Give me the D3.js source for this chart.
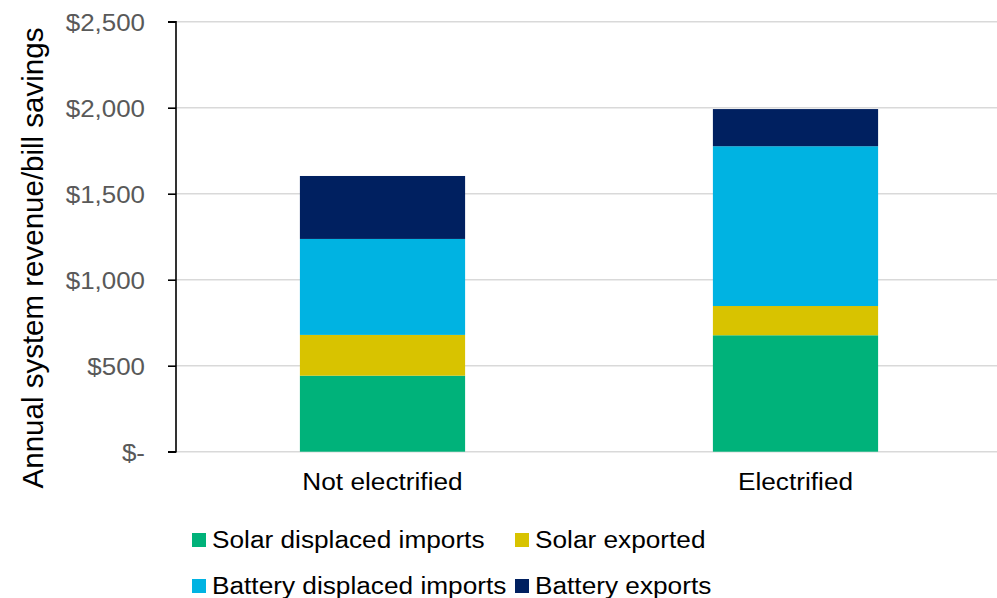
<!DOCTYPE html>
<html>
<head>
<meta charset="utf-8">
<script src="https://cdn.jsdelivr.net/npm/d3@7"></script>
<style>
  html, body { margin: 0; padding: 0; background: #fff; }
  svg { display: block; font-family: Arial, "Liberation Sans", sans-serif; }
</style>
</head>
<body>
<svg id="chart" width="997" height="598"></svg>
<script>
// ---- Data ----
const categories = ["Not electrified", "Electrified"];
const seriesNames = ["Solar displaced imports", "Solar exported", "Battery displaced imports", "Battery exports"];
const solarDisplaced = [442, 677];
const solarExported = [237, 170];
const batteryDisplaced = [558, 929];
const batteryExports = [366, 216];
const tickValues = [0, 500, 1000, 1500, 2000, 2500];
const tickLabels = ["$-", "$500", "$1,000", "$1,500", "$2,000", "$2,500"];
const colors = ["#00B27A", "#D8C300", "#00B3E2", "#002060"];
const yTitle = "Annual system revenue/bill savings";

// ---- Build table ----
const seriesValues = [solarDisplaced, solarExported, batteryDisplaced, batteryExports];
const table = categories.map((c, i) => {
  const row = { category: c };
  seriesNames.forEach((s, j) => row[s] = seriesValues[j][i]);
  return row;
});
const stacked = d3.stack().keys(seriesNames)(table);

const svg = d3.select("#chart");
const x0 = 176, x1 = 1002, yTop = 21.7, yBottom = 451.7;

const x = d3.scaleBand().domain(categories).range([x0, x1]).paddingInner(0.6).paddingOuter(0.3);
const y = d3.scaleLinear().domain([0, 2500]).range([yBottom, yTop]);
const color = d3.scaleOrdinal().domain(seriesNames).range(colors);

function stretch(sel, factor) {
  sel.each(function() {
    const len = this.getComputedTextLength();
    d3.select(this).attr("textLength", len * factor).attr("lengthAdjust", "spacingAndGlyphs");
  });
}

// gridlines
svg.append("g")
  .selectAll("line").data(tickValues).join("line")
  .attr("x1", x0).attr("x2", 997)
  .attr("y1", d => y(d)).attr("y2", d => y(d))
  .attr("stroke", "#d9d9d9").attr("stroke-width", 1.6);

// bars
svg.append("g").selectAll("g").data(stacked).join("g")
  .attr("fill", d => color(d.key))
  .selectAll("rect").data(d => d).join("rect")
  .attr("x", d => x(d.data.category))
  .attr("width", x.bandwidth())
  .attr("y", d => y(d[1]))
  .attr("height", d => y(d[0]) - y(d[1]));

// y axis
const yAxis = d3.axisLeft(y).tickValues(tickValues).tickSize(8).tickPadding(22)
  .tickFormat((d, i) => tickLabels[i]);
const gy = svg.append("g").attr("transform", `translate(${x0},0)`).call(yAxis);
gy.select(".domain").attr("stroke", "#000").attr("stroke-width", 1.6).attr("d", `M-8,${yTop}H0V${yBottom}H-8`);
gy.selectAll(".tick line").attr("stroke", "#000").attr("stroke-width", 1.6);
gy.selectAll(".tick text")
  .attr("fill", "#595959").attr("font-size", 24).attr("font-family", "Arial, 'Liberation Sans', sans-serif")
  .attr("x", -31).attr("dy", "0.36em");
stretch(gy.selectAll(".tick text"), 1.08);

// x labels
const xl = svg.append("g").selectAll("text").data(categories).join("text")
  .attr("x", d => x(d) + x.bandwidth() / 2)
  .attr("y", 490)
  .attr("text-anchor", "middle")
  .attr("font-size", 23)
  .attr("fill", "#000")
  .text(d => d);
stretch(xl, 1.14);

// y title
svg.append("text")
  .attr("transform", "translate(43,258) rotate(-90)")
  .attr("text-anchor", "middle")
  .attr("font-size", 29.5)
  .attr("fill", "#000")
  .text(yTitle);

// legend
const legendPos = [
  { x: 192, y: 533 }, { x: 515, y: 533 },
  { x: 192, y: 579 }, { x: 515, y: 579 }
];
const lg = svg.append("g").selectAll("g").data(seriesNames).join("g")
  .attr("transform", (d, i) => `translate(${legendPos[i].x},${legendPos[i].y})`);
lg.append("rect").attr("width", 14).attr("height", 14).attr("fill", d => color(d));
const lt = lg.append("text").attr("x", 20).attr("y", 14.5).attr("font-size", 23).attr("fill", "#000").text(d => d);
stretch(lt, 1.14);
</script>
</body>
</html>
